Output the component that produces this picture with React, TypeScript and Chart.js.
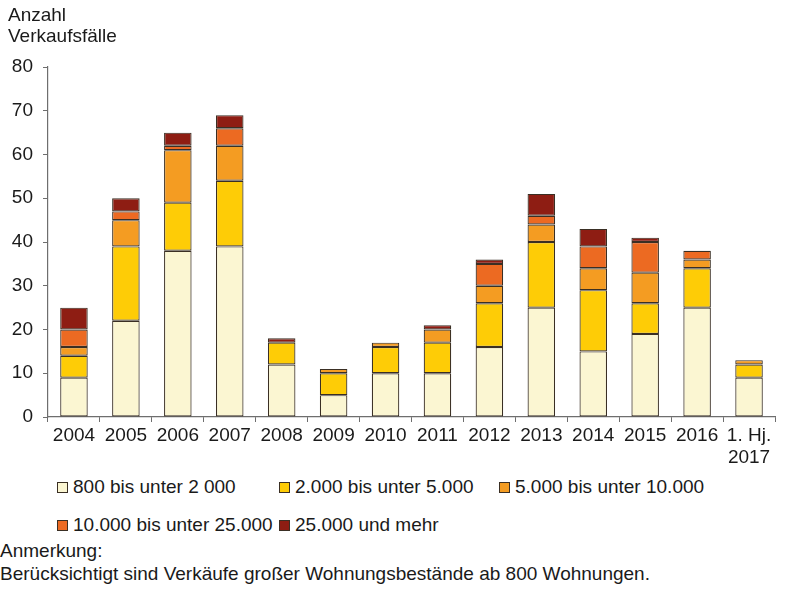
import React, { useEffect, useRef } from "react";
import { Chart, registerables } from "chart.js";

Chart.register(...registerables);

const categories: (string | string[])[] = [
  "2004", "2005", "2006", "2007", "2008", "2009", "2010",
  "2011", "2012", "2013", "2014", "2015", "2016", ["1. Hj.", "2017"],
];

const s800to2000 = [9, 22, 38, 39, 12, 5, 10, 10, 16, 25, 15, 19, 25, 9];
const s2000to5000 = [5, 17, 11, 15, 5, 5, 6, 7, 10, 15, 14, 7, 9, 3];
const s5000to10000 = [2, 6, 12, 8, 0, 1, 1, 3, 4, 4, 5, 7, 2, 1];
const s10000to25000 = [4, 2, 1, 4, 0, 0, 0, 0, 5, 2, 5, 7, 2, 0];
const s25000plus = [5, 3, 3, 3, 1, 0, 0, 1, 1, 5, 4, 1, 0, 0];

const seriesNames = [
  "800 bis unter 2 000",
  "2.000 bis unter 5.000",
  "5.000 bis unter 10.000",
  "10.000 bis unter 25.000",
  "25.000 und mehr",
];
const seriesColors = ["#FBF6D2", "#FECC06", "#F49C22", "#EC6A22", "#8E1D13"];
const yTicks = [0, 10, 20, 30, 40, 50, 60, 70, 80];

const FONT = '"Liberation Sans", Arial, sans-serif';

export default function App() {
  const ref = useRef<HTMLCanvasElement | null>(null);

  useEffect(() => {
    if (!ref.current) return;
    const all = [s800to2000, s2000to5000, s5000to10000, s10000to25000, s25000plus];
    const chart = new Chart(ref.current, {
      type: "bar",
      data: {
        labels: categories,
        datasets: all.map((arr, i) => ({
          label: seriesNames[i],
          data: arr.map((v) => (v === 0 ? null : v)),
          backgroundColor: seriesColors[i],
          borderColor: "#3a2f24",
          borderWidth: 1.2,
          borderSkipped: false,
          categoryPercentage: 1,
          barPercentage: 0.53,
        })),
      },
      options: {
        animation: false,
        responsive: false,
        devicePixelRatio: 1,
        layout: { padding: { left: 0, top: 67, right: 25, bottom: 3 } },
        plugins: { legend: { display: false }, tooltip: { enabled: false }, title: { display: false } },
        scales: {
          x: {
            stacked: true,
            afterFit: (s: any) => { s.height = 50; },
            border: { display: true, color: "#6e6e6e", width: 1.2 },
            grid: { drawOnChartArea: false, drawTicks: true, tickLength: 5, color: "#6e6e6e", offset: true },
            ticks: { font: { family: FONT, size: 19 }, color: "#1a1a1a", padding: 2, maxRotation: 0, autoSkip: false },
          },
          y: {
            stacked: true,
            min: 0,
            max: yTicks[yTicks.length - 1],
            afterFit: (s: any) => { s.width = 48; },
            afterBuildTicks: (s: any) => { s.ticks = yTicks.map((v) => ({ value: v })); },
            border: { display: true, color: "#6e6e6e", width: 1.2 },
            grid: { drawOnChartArea: false, drawTicks: true, tickLength: 5, color: "#6e6e6e" },
            ticks: { font: { family: FONT, size: 19 }, color: "#1a1a1a", padding: 10 },
          },
        },
      },
    });
    return () => chart.destroy();
  }, []);

  const legendPos = [
    { left: 57, top: 487 },
    { left: 279, top: 487 },
    { left: 499, top: 487 },
    { left: 57, top: 525 },
    { left: 279, top: 525 },
  ];

  return (
    <div style={{ position: "absolute", left: 0, top: 0, width: 800, height: 600, background: "#fff", fontFamily: FONT, color: "#1a1a1a", overflow: "hidden" }}>
      <canvas ref={ref} width={800} height={470} style={{ position: "absolute", left: 0, top: 0, width: 800, height: 470 }} />
      <div style={{ position: "absolute", left: 8, top: 4, fontSize: 19, lineHeight: "21px" }}>
        Anzahl<br />Verkaufsfälle
      </div>
      {seriesNames.map((name, i) => (
        <div key={name} style={{ position: "absolute", left: legendPos[i].left, top: legendPos[i].top - 11, height: 22, display: "flex", alignItems: "center", whiteSpace: "nowrap", fontSize: 19, lineHeight: "22px" }}>
          <span style={{ display: "inline-block", width: 9, height: 9, background: seriesColors[i], border: "1px solid #3a2f24", marginRight: 5 }} />
          <span>{name}</span>
        </div>
      ))}
      <div style={{ position: "absolute", left: 0, top: 540, fontSize: 19, lineHeight: "22px", whiteSpace: "nowrap" }}>Anmerkung:</div>
      <div style={{ position: "absolute", left: 0, top: 563, fontSize: 19, lineHeight: "22px", whiteSpace: "nowrap" }}>
        Berücksichtigt sind Verkäufe großer Wohnungsbestände ab 800 Wohnungen.
      </div>
    </div>
  );
}
